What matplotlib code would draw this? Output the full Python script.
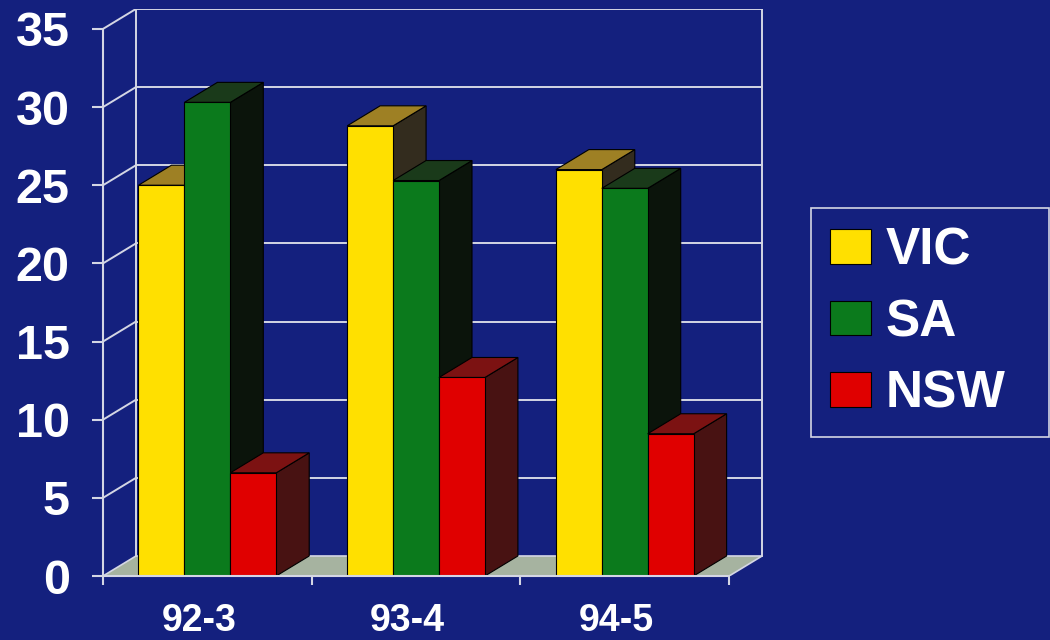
import matplotlib
matplotlib.use("Agg")
import matplotlib.pyplot as plt
from matplotlib.patches import Polygon, Rectangle, Patch

# ---- data ----
categories = ["92-3", "93-4", "94-5"]
series = ["VIC", "SA", "NSW"]
vic = [25.0, 28.8, 26.0]
sa = [30.3, 25.3, 24.8]
nsw = [6.6, 12.7, 9.1]
yticks = [0, 5, 10, 15, 20, 25, 30, 35]

# ---- style ----
BG = "#14207e"
GRID = "#d4d6e4"
FLOOR = "#a6b3a0"
front_cols = ["#ffe000", "#0b7a1c", "#e00000"]
top_cols = ["#9e8024", "#1a3a1a", "#7c1212"]
side_cols = ["#332c1e", "#0b140b", "#481212"]

plt.rcParams["font.family"] = ["Liberation Sans", "DejaVu Sans"]

fig = plt.figure(figsize=(10.5, 6.4), dpi=100, facecolor=BG)
ax = fig.add_axes([103/1050, 0.1, 661.6/1050, 567.4/640])
ax.set_facecolor("none")
ax.set_xlim(0, 3.17)
ax.set_ylim(0, 36.3)

DX, DY = 0.158, 1.28     # depth offset (data units)
W = 0.22                 # bar width
G0 = 0.17                # group start offset inside category
ncat = len(categories)
ymax = yticks[-1]

# floor
ax.add_patch(Polygon([(0, 0), (ncat, 0), (ncat + DX, DY), (DX, DY)],
                     closed=True, facecolor=FLOOR, edgecolor=GRID, lw=1.2, zorder=1))
# back wall gridlines and walls
for v in yticks[1:]:
    ax.plot([DX, ncat + DX], [v + DY, v + DY], color=GRID, lw=1.4, zorder=1)
    ax.plot([0, DX], [v, v + DY], color=GRID, lw=1.4, zorder=1)
ax.plot([DX, DX], [DY, ymax + DY], color=GRID, lw=1.4, zorder=1)
ax.plot([ncat + DX, ncat + DX], [DY, ymax + DY], color=GRID, lw=1.4, zorder=1)

# bars
data = [vic, sa, nsw]
z = 2
for i in range(ncat):
    for j, vals in enumerate(data):
        v = vals[i]
        x0 = i + G0 + j * W
        side = Polygon([(x0 + W, 0), (x0 + W + DX, DY), (x0 + W + DX, v + DY), (x0 + W, v)],
                       closed=True, facecolor=side_cols[j], edgecolor="black", lw=0.8, zorder=z)
        top = Polygon([(x0, v), (x0 + W, v), (x0 + W + DX, v + DY), (x0 + DX, v + DY)],
                      closed=True, facecolor=top_cols[j], edgecolor="black", lw=0.8, zorder=z)
        front = Rectangle((x0, 0), W, v, facecolor=front_cols[j], edgecolor="black", lw=0.8, zorder=z)
        for p in (side, top, front):
            ax.add_patch(p)
        z += 1

# axes spines / ticks
for s in ["top", "right"]:
    ax.spines[s].set_visible(False)
ax.spines["left"].set_bounds(0, ymax)
ax.spines["bottom"].set_bounds(0, ncat)
for s in ["left", "bottom"]:
    ax.spines[s].set_color(GRID)
    ax.spines[s].set_linewidth(1.5)
    ax.spines[s].set_zorder(50)
ax.set_yticks(yticks)
ax.set_yticklabels([str(t) for t in yticks], fontsize=35, fontweight="bold", color="white")
ax.tick_params(axis="y", length=8, width=1.5, color=GRID, pad=16)
ax.set_xticks(range(ncat + 1))
ax.set_xticklabels([])
ax.tick_params(axis="x", length=6.5, width=1.5, color=GRID, direction="out")

for i, c in enumerate(categories):
    ax.text(i + 0.5 - 0.04, -1.7, c, ha="center", va="top", fontsize=27,
            fontweight="bold", color="white", clip_on=False)

# legend
handles = [Patch(facecolor=front_cols[j], edgecolor="black", lw=0.8) for j in range(3)]
leg = ax.legend(handles, series, loc="upper left",
                bbox_to_anchor=(811/1050, (640-429)/640, 238/1050, 221/640),
                bbox_transform=fig.transFigure, mode="expand",
                frameon=True, fancybox=False, framealpha=1,
                facecolor=BG, edgecolor=GRID,
                prop={"size": 37, "weight": "bold"},
                handlelength=0.8, handleheight=0.66, handletextpad=0.3,
                labelspacing=0.44, borderpad=0.36, borderaxespad=0)
leg.get_frame().set_linewidth(1.2)
for t in leg.get_texts():
    t.set_color("white")

fig.savefig("out.png", dpi=100, facecolor=BG)
